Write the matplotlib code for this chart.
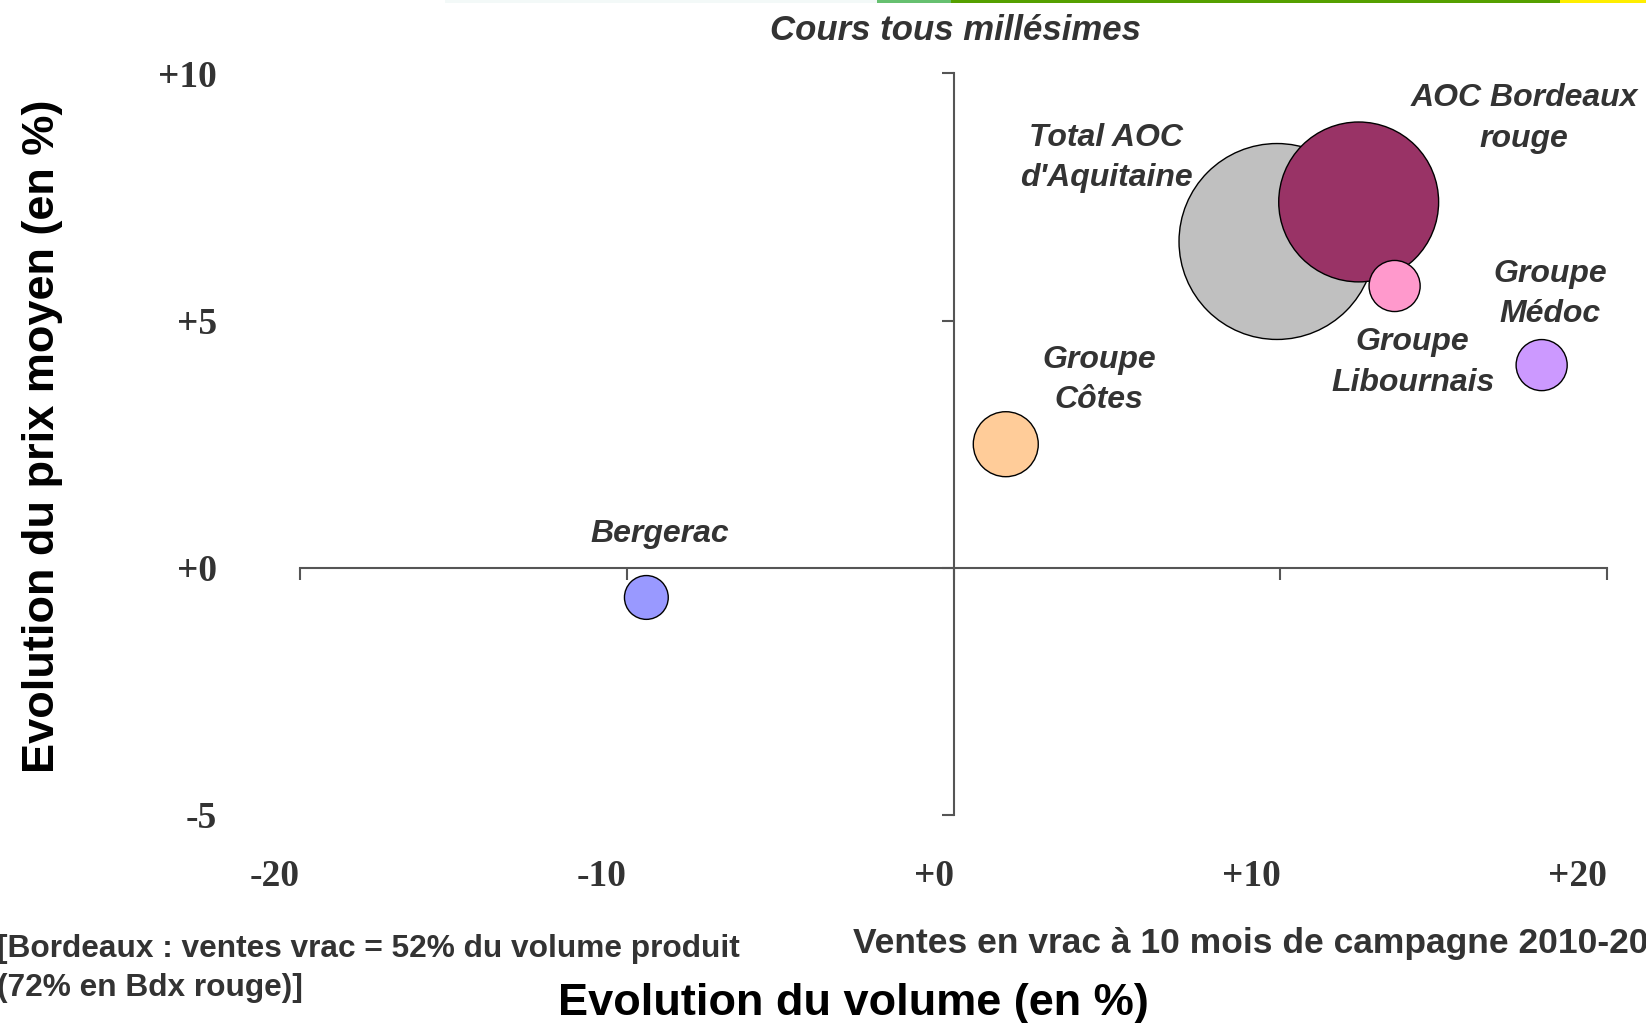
import matplotlib.pyplot as plt
from matplotlib.patches import Rectangle
from matplotlib import transforms

# bulk sales at 10 months: volume change vs average price change (%)
names = ["Bergerac", "Groupe\nCôtes", "Total AOC\nd'Aquitaine",
         "AOC Bordeaux\nrouge", "Groupe\nLibournais", "Groupe\nMédoc"]
vol_change = [-9.4, 1.6, 9.9, 12.4, 13.5, 18.0]
price_change = [-0.6, 2.5, 6.6, 7.4, 5.7, 4.1]
volume = [5.0, 11.0, 100.0, 66.6, 6.8, 6.8]
colors = ["#9999FF", "#FFCC99", "#C0C0C0", "#993366", "#FF99CC", "#CC99FF"]

xticks = [-20, -10, 0, 10, 20]
yticks = [-5, 0, 5, 10]
xtick_labels = ["-20", "-10", "+0", "+10", "+20"]
ytick_labels = ["-5", "+0", "+5", "+10"]

# label offsets from bubble centre (points)
offsets = [(10, 46), (67, 46), (-123, 60), (119, 60), (13, -55), (6, 51)]

W, H = 1646, 1023
fig = plt.figure(figsize=(W / 100, H / 100), dpi=100)

# thin coloured band along the top edge
for x0, x1, c in [(445, 877, "#F3F9F8"), (877, 951, "#66C070"),
                  (951, 1560, "#55A000"), (1560, 1646, "#FFEE00")]:
    fig.patches.append(Rectangle((x0 / W, 1 - 3 / H), (x1 - x0) / W, 3 / H,
                                 transform=fig.transFigure, color=c, lw=0))

ax = fig.add_axes([300 / W, 208 / H, 1307 / W, 741.6 / H])
ax.set_xlim(-20, 20)
ax.set_ylim(-5, 10)
ax.set_facecolor("none")

for s in ["top", "right"]:
    ax.spines[s].set_visible(False)
ax.spines["left"].set_position(("data", 0))
ax.spines["bottom"].set_position(("data", 0))
for s in ["left", "bottom"]:
    ax.spines[s].set_color("#555555")
    ax.spines[s].set_linewidth(1.5)
ax.set_xticks(xticks)
ax.set_yticks(yticks)
ax.tick_params(direction="out", length=8.5, width=1.5, color="#555555",
               labelleft=False, labelbottom=False)

# tick labels sit at the low edge, away from the crossing axes
tick_font = dict(family="Liberation Serif", fontweight="bold", fontsize=27,
                 color="#333333")
down = transforms.ScaledTranslation(0, -0.04, fig.dpi_scale_trans)
ytrans = transforms.blended_transform_factory(fig.transFigure, ax.transData) + down
for v, lab in zip(yticks, ytick_labels):
    ax.text(217 / W, v, lab, transform=ytrans, ha="right", va="center", **tick_font)
xtrans = transforms.blended_transform_factory(ax.transData, fig.transFigure)
for v, lab in zip(xticks, xtick_labels):
    ax.text(v, 1 - 877 / H, lab, transform=xtrans, ha="right", va="center", **tick_font)

# bubble area proportional to volume
ax.scatter(vol_change, price_change, s=[v * 199 for v in volume], c=colors,
           edgecolors="black", linewidths=1.0, zorder=3, clip_on=False)

for name, x, y, off in zip(names, vol_change, price_change, offsets):
    ax.annotate(name, (x, y), xytext=off, textcoords="offset points",
                ha="center", va="center", family="Liberation Sans",
                fontweight="bold", style="italic", fontsize=23,
                color="#333333", linespacing=1.45)

fig.text(955 / W, 1 - 31 / H, "Cours tous millésimes", ha="center", va="center",
         family="Liberation Sans", fontweight="bold", style="italic",
         fontsize=25, color="#333333")

fig.text(43 / W, 1 - 436 / H, "Evolution du prix moyen (en %)", rotation=90,
         ha="center", va="center", family="Liberation Sans", fontweight="bold",
         fontsize=32.5, color="black")
fig.text(853 / W, 1 - 1004 / H, "Evolution du volume (en %)", ha="center",
         va="center", family="Liberation Sans", fontweight="bold", fontsize=32.5,
         color="black")

note = dict(ha="left", va="center", family="Liberation Sans", fontweight="bold",
            fontsize=22.8, color="#333333")
fig.text(-3 / W, 1 - 949 / H, "[Bordeaux : ventes vrac = 52% du volume produit", **note)
fig.text(-3 / W, 1 - 988 / H, "(72% en Bdx rouge)]", **note)
fig.text(853 / W, 1 - 944 / H, "Ventes en vrac à 10 mois de campagne 2010-20",
         ha="left", va="center", family="Liberation Sans", fontweight="bold",
         fontsize=25.5, color="#333333")

fig.savefig("out.png", dpi=100)
